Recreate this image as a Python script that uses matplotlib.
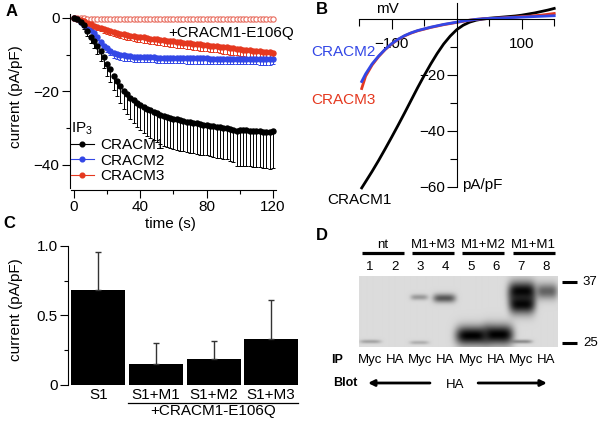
import matplotlib
matplotlib.use('Agg')
import matplotlib.pyplot as plt
from matplotlib.lines import Line2D
import numpy as np

plt.rcParams['font.family'] = ['Liberation Sans', 'DejaVu Sans']
plt.rcParams['mathtext.fontset'] = 'custom'
plt.rcParams['mathtext.rm'] = 'Liberation Sans'

# ---------------- data ----------------
# A: current vs time (every 2 s)
times = list(range(0, 121, 2))
cracm1 = [0, -0.3, -1.0, -2.0, -3.6, -5.2, -6.2, -7.6, -9.0, -10.6,
          -12.6, -14.0, -15.8, -17.2, -18.6, -19.8, -20.8, -21.7, -22.4, -23.1,
          -23.7, -24.2, -24.7, -25.1, -25.5, -25.9, -26.3, -26.6, -26.9, -27.2,
          -27.4, -27.6, -27.8, -28.0, -28.2, -28.4, -28.5, -28.7, -28.9, -29.0,
          -29.1, -29.3, -29.4, -29.6, -29.7, -29.9, -30.0, -30.2, -30.6, -30.7,
          -30.6, -30.6, -30.6, -30.7, -30.7, -30.8, -30.8, -30.9, -31.0, -31.1,
          -30.7]
cracm1_err = [0, 0.2, 0.5, 0.9, 1.3, 1.7, 2.0, 2.3, 2.6, 2.9,
              3.2, 3.5, 3.8, 4.1, 4.5, 4.9, 5.3, 5.7, 6.1, 6.5,
              6.8, 7.1, 7.4, 7.6, 7.8, 7.9, 8.0, 8.1, 8.2, 8.3,
              8.3, 8.3, 8.3, 8.3, 8.3, 8.3, 8.3, 8.3, 8.3, 8.3,
              8.3, 8.3, 8.4, 8.4, 8.4, 8.5, 8.5, 8.6, 8.6, 9.5,
              9.6, 9.6, 9.7, 9.7, 9.8, 9.8, 9.8, 9.9, 9.9, 10.0,
              10.0]
cracm2 = [0, -0.2, -1.0, -1.8, -2.6, -3.3, -4.2, -5.3, -6.5, -7.5,
          -8.3, -9.0, -9.5, -9.8, -10.0, -10.2, -10.3, -10.4, -10.5, -10.5,
          -10.6, -10.6, -10.7, -10.7, -10.7, -10.8, -10.8, -10.8, -10.8, -10.9,
          -10.9, -10.9, -10.9, -10.9, -11.0, -11.0, -11.0, -11.0, -11.0, -11.0,
          -11.0, -11.1, -11.1, -11.1, -11.1, -11.1, -11.1, -11.1, -11.1, -11.2,
          -11.2, -11.2, -11.2, -11.2, -11.2, -11.2, -11.3, -11.3, -11.3, -11.3,
          -11.1]
cracm2_err = [0, 0.1, 0.2, 0.3, 0.4, 0.5, 0.6, 0.8, 0.9, 1.0,
              1.1, 1.2, 1.3, 1.3, 1.4, 1.4, 1.4, 1.4, 1.4, 1.4,
              1.4, 1.4, 1.4, 1.4, 1.4, 1.4, 1.4, 1.4, 1.4, 1.4,
              1.4, 1.4, 1.4, 1.4, 1.4, 1.4, 1.4, 1.4, 1.4, 1.4,
              1.4, 1.4, 1.4, 1.4, 1.4, 1.4, 1.4, 1.4, 1.4, 1.4,
              1.4, 1.4, 1.4, 1.4, 1.4, 1.4, 1.4, 1.4, 1.4, 1.4,
              1.4]
cracm3 = [0, -0.2, -0.5, -0.9, -1.3, -1.7, -2.1, -2.5, -2.8, -3.1,
          -3.4, -3.6, -3.9, -4.1, -4.3, -4.5, -4.7, -4.8, -5.0, -5.1,
          -5.2, -5.3, -5.5, -5.6, -5.7, -5.8, -5.9, -6.0, -6.2, -6.3,
          -6.4, -6.5, -6.6, -6.7, -6.8, -6.9, -7.0, -7.1, -7.2, -7.3,
          -7.4, -7.5, -7.6, -7.7, -7.8, -7.9, -8.0, -8.2, -8.3, -8.4,
          -8.5, -8.6, -8.7, -8.8, -8.9, -9.0, -9.1, -9.2, -9.3, -9.4,
          -9.6]
cracm3_err = [0, 0.1, 0.2, 0.3, 0.4, 0.5, 0.6, 0.7, 0.8, 0.9,
              1.0, 1.0, 1.1, 1.1, 1.2, 1.2, 1.3, 1.3, 1.3, 1.4,
              1.4, 1.4, 1.4, 1.5, 1.5, 1.5, 1.5, 1.5, 1.5, 1.6,
              1.6, 1.6, 1.6, 1.6, 1.6, 1.6, 1.7, 1.7, 1.7, 1.7,
              1.7, 1.7, 1.7, 1.7, 1.7, 1.8, 1.8, 1.8, 1.8, 1.8,
              1.8, 1.8, 1.8, 1.8, 1.8, 1.8, 1.8, 1.8, 1.8, 1.8,
              1.8]
e106q = [0, 0, -0.1, -0.1, -0.2, -0.2, -0.2, -0.3, -0.3, -0.3,
         -0.3, -0.3, -0.4, -0.3, -0.3, -0.4, -0.4, -0.3, -0.3, -0.4,
         -0.4, -0.4, -0.3, -0.3, -0.4, -0.4, -0.4, -0.3, -0.3, -0.4,
         -0.4, -0.3, -0.3, -0.3, -0.4, -0.4, -0.4, -0.3, -0.3, -0.3,
         -0.4, -0.4, -0.3, -0.3, -0.3, -0.3, -0.4, -0.4, -0.3, -0.3,
         -0.3, -0.3, -0.4, -0.4, -0.3, -0.3, -0.3, -0.3, -0.4, -0.3,
         -0.3]

# B: I-V curves
mv = [-146, -140, -130, -120, -110, -100, -90, -80, -70, -60, -50, -40, -30, -20, -10,
      0, 10, 20, 30, 40, 50, 60, 70, 80, 90, 100, 110, 120, 130, 140, 150]
iv1 = [-60.5, -58.3, -54.6, -50.7, -46.6, -42.4, -38.1, -33.7, -29.2, -24.7, -20.4,
       -16.3, -12.5, -9.1, -6.3, -4.0, -2.4, -1.3, -0.6, -0.2, 0.1, 0.3, 0.5, 0.7,
       0.9, 1.2, 1.6, 2.0, 2.5, 3.0, 3.6]
iv2 = [-22.5, -19.8, -16.2, -13.4, -11.0, -9.0, -7.4, -6.1, -5.1, -4.3, -3.7,
       -3.1, -2.6, -2.1, -1.7, -1.3, -0.9, -0.6, -0.3, -0.1, 0.0, 0.1, 0.2, 0.3,
       0.4, 0.5, 0.6, 0.7, 0.8, 0.9, 1.0]
iv3 = [-25.0, -20.6, -16.6, -13.6, -11.1, -9.1, -7.5, -6.2, -5.2, -4.4, -3.8,
       -3.2, -2.7, -2.2, -1.8, -1.4, -1.0, -0.6, -0.3, -0.1, 0.0, 0.1, 0.2, 0.4,
       0.5, 0.7, 0.8, 1.0, 1.2, 1.5, 1.8]

# C: bars
bar_labels = ['S1', 'S1+M1', 'S1+M2', 'S1+M3']
bar_vals = [0.68, 0.15, 0.19, 0.33]
bar_err = [0.28, 0.15, 0.13, 0.28]

# D: blot
lane_nums = ['1', '2', '3', '4', '5', '6', '7', '8']
ip_labels = ['Myc', 'HA', 'Myc', 'HA', 'Myc', 'HA', 'Myc', 'HA']
groups = ['nt', 'M1+M3', 'M1+M2', 'M1+M1']
band_lane = [1.0, 2.95, 2.95, 3.95, 5.05, 6.1, 7.05, 7.05, 7.05, 8.05]
band_row = [342, 343, 297, 298, 336, 335, 291, 304, 342, 291]
band_strength = [0.25, 0.2, 0.3, 0.6, 1.0, 1.0, 0.97, 0.97, 0.35, 0.55]
band_halfw = [0.42, 0.38, 0.35, 0.45, 0.65, 0.6, 0.55, 0.52, 0.4, 0.42]
band_halfh = [2.0, 2.0, 3.0, 4.5, 9.5, 10.0, 10.0, 10.0, 2.0, 8.0]

BLUE = '#3347e6'
RED = '#e5381f'
FS = 11

W, H = 600, 421
fig = plt.figure(figsize=(6, 4.21), dpi=100)


def box(l, t, r, b):
    return [l / W, 1 - b / H, (r - l) / W, (b - t) / H]


def ftext(x, y, s, **kw):
    fig.text(x / W, 1 - y / H, s, **kw)


# ---------------- A ----------------
axA = fig.add_axes(box(70, 8, 276, 190))
axA.set_xlim(-2.4, 121.8)
axA.set_ylim(-46.8, 2.7)
for s in ['top', 'right']:
    axA.spines[s].set_visible(False)
axA.spines['left'].set_bounds(-46.3, 1.2)
axA.spines['bottom'].set_bounds(-1.5, 121.5)
axA.set_yticks([0, -20, -40])
axA.set_yticks([-10, -30], minor=True)
axA.set_xticks([0, 40, 80, 120])
axA.set_xticks([20, 60, 100], minor=True)
axA.tick_params(which='major', length=6, width=0.8, labelsize=FS, pad=1.5)
axA.tick_params(which='minor', length=3, width=0.8)

z = np.zeros(len(times))
axA.errorbar(times, e106q, fmt='o', ms=3.8, mfc='white', mec='#e86a5c', mew=0.8)
axA.errorbar(times, cracm2, yerr=[cracm2_err, z], fmt='o', ms=3.6, color=BLUE,
             ecolor=BLUE, elinewidth=0.7, capsize=1.5, capthick=0.7)
axA.errorbar(times, cracm3, yerr=[cracm3_err, z], fmt='o', ms=3.6, color=RED,
             ecolor=RED, elinewidth=0.7, capsize=1.5, capthick=0.7)
axA.errorbar(times, cracm1, yerr=[cracm1_err, z], fmt='o', ms=3.6, color='black',
             ecolor='black', elinewidth=0.7, capsize=1.5, capthick=0.7)
axA.text(95, -4.2, '+CRACM1-E106Q', fontsize=FS, ha='center', va='center', clip_on=False)

handles = [Line2D([], [], color=c, marker='o', ms=3.4, lw=0.8)
           for c in ['black', BLUE, RED]]
leg = axA.legend(handles, ['CRACM1', 'CRACM2', 'CRACM3'], title=r'IP$_\mathregular{3}$',
                 loc='upper left', bbox_to_anchor=(71 / W, 1 - 120 / H),
                 bbox_transform=fig.transFigure, frameon=False, fontsize=FS,
                 title_fontsize=FS, handlelength=1.5, handletextpad=0.4,
                 labelspacing=0.1, borderpad=0, borderaxespad=0, alignment='left')
ftext(170, 224, 'time (s)', fontsize=FS, ha='center', va='center')
ftext(16, 97, 'current (pA/pF)', fontsize=FS, ha='center', va='center', rotation=90)
ftext(12, 11, 'A', fontsize=12, fontweight='bold', ha='center', va='center')

# ---------------- B ----------------
axB = fig.add_axes(box(350, 2, 560, 190))
axB.set_xlim(-164, 158.9)
axB.set_ylim(-61.25, 5.9)
for s in ['top', 'right']:
    axB.spines[s].set_visible(False)
axB.spines['left'].set_position(('data', 0))
axB.spines['bottom'].set_position(('data', 0))
axB.spines['left'].set_bounds(-60, 5.5)
axB.spines['bottom'].set_bounds(-150, 150)
axB.set_xticks([-100, 100])
axB.set_xticks([-150, -50, 50, 150], minor=True)
axB.set_yticks([-20, -40, -60])
axB.set_yticks([-10, -30, -50], minor=True)
axB.tick_params(which='major', length=7, width=0.8, labelsize=FS)
axB.tick_params(which='minor', length=5, width=0.8)
axB.tick_params(axis='x', which='major', pad=6)
axB.tick_params(axis='y', which='major', pad=1.5)
axB.plot(mv, iv1, color='black', lw=2)
axB.plot(mv, iv3, color=RED, lw=2)
axB.plot(mv, iv2, color=BLUE, lw=2)
axB.text(-106, 3.4, 'mV', fontsize=FS, ha='center', va='center')
axB.text(9, -59.5, 'pA/pF', fontsize=FS, ha='left', va='center')
axB.text(-174, -12, 'CRACM2', fontsize=FS, color=BLUE, ha='center', va='center', clip_on=False)
axB.text(-174, -29, 'CRACM3', fontsize=FS, color=RED, ha='center', va='center', clip_on=False)
axB.text(-149, -65, 'CRACM1', fontsize=FS, color='black', ha='center', va='center', clip_on=False)
ftext(322, 9, 'B', fontsize=12, fontweight='bold', ha='center', va='center')

# ---------------- C ----------------
axC = fig.add_axes(box(68, 240, 300, 385))
xc = np.arange(len(bar_vals))
axC.bar(xc, bar_vals, width=0.94, color='black')
axC.errorbar(xc, bar_vals, yerr=[np.zeros(len(bar_vals)), bar_err], fmt='none',
             ecolor='#333333', elinewidth=1, capsize=2.5, capthick=1)
axC.set_xlim(-0.527, 3.5)
axC.set_ylim(0, 1.043)
for s in ['top', 'right', 'bottom']:
    axC.spines[s].set_visible(False)
axC.spines['left'].set_bounds(0, 1.0)
axC.set_yticks([0, 0.5, 1.0])
axC.set_yticklabels(['0', '0.5', '1.0'])
axC.set_yticks([0.25, 0.75], minor=True)
axC.set_xticks(xc)
axC.set_xticklabels(bar_labels)
axC.tick_params(axis='x', length=0, pad=2, labelsize=FS)
axC.tick_params(axis='y', which='major', length=6, width=0.8, labelsize=FS, pad=1.5)
axC.tick_params(axis='y', which='minor', length=3, width=0.8)
axC.plot([0.52, 3.47], [-0.13, -0.13], color='black', lw=0.9, clip_on=False)
axC.text(2.0, -0.188, '+CRACM1-E106Q', fontsize=FS, ha='center', va='center')
ftext(16, 310, 'current (pA/pF)', fontsize=FS, ha='center', va='center', rotation=90)
ftext(9, 224, 'C', fontsize=12, fontweight='bold', ha='center', va='center')

# ---------------- D ----------------
axD = fig.add_axes(box(359, 276, 558, 347))
x0, x1, r0, r1 = 0.563, 8.46, 276, 347
gx = np.linspace(x0, x1, 200)
gy = np.linspace(r0, r1, 71)
X, Y = np.meshgrid(gx, gy)
keep = np.ones_like(X)
for ln, rw, st, hw, hh in zip(band_lane, band_row, band_strength, band_halfw, band_halfh):
    d = st * np.exp(-((X - ln) / hw) ** 4) * np.exp(-((Y - rw) / hh) ** 2)
    keep *= 1 - d
img = 0.86 * keep
axD.imshow(img, cmap='gray', vmin=0, vmax=1, extent=(x0, x1, r1, r0),
           aspect='auto', interpolation='bilinear')
axD.set_xlim(x0, x1)
axD.set_ylim(r1, r0)
axD.axis('off')
for i, n in enumerate(lane_nums):
    axD.text(i + 1, 267, n, fontsize=9.5, ha='center', va='center')
    axD.text(i + 1, 360, ip_labels[i], fontsize=9.5, ha='center', va='center')
for g, name in enumerate(groups):
    c = 1.5 + 2 * g
    axD.plot([c - 0.83, c + 0.83], [253, 253], color='black', lw=2.3,
             solid_capstyle='butt', clip_on=False)
    axD.text(c, 245, name, fontsize=9.5, ha='center', va='center')
for rw, lab in zip([281.7, 343.3], ['37', '25']):
    axD.plot([8.61, 9.2], [rw, rw], color='black', lw=2.2, clip_on=False,
             solid_capstyle='butt')
    axD.text(9.45, rw, lab, fontsize=9.5, ha='left', va='center')
axD.text(-0.31, 360, 'IP', fontsize=9, fontweight='bold', ha='center', va='center')
axD.text(0.0, 383, 'Blot', fontsize=9, fontweight='bold', ha='center', va='center')
axD.text(4.37, 385, 'HA', fontsize=9.5, ha='center', va='center')
axD.annotate('', xy=(0.92, 383), xytext=(3.38, 383), annotation_clip=False,
             arrowprops=dict(arrowstyle='-|>', lw=2, color='black', mutation_scale=9,
                             shrinkA=0, shrinkB=0))
axD.annotate('', xy=(8.02, 383), xytext=(5.29, 383), annotation_clip=False,
             arrowprops=dict(arrowstyle='-|>', lw=2, color='black', mutation_scale=9,
                             shrinkA=0, shrinkB=0))
ftext(322, 235, 'D', fontsize=12, fontweight='bold', ha='center', va='center')

fig.savefig('out.png', dpi=100)
